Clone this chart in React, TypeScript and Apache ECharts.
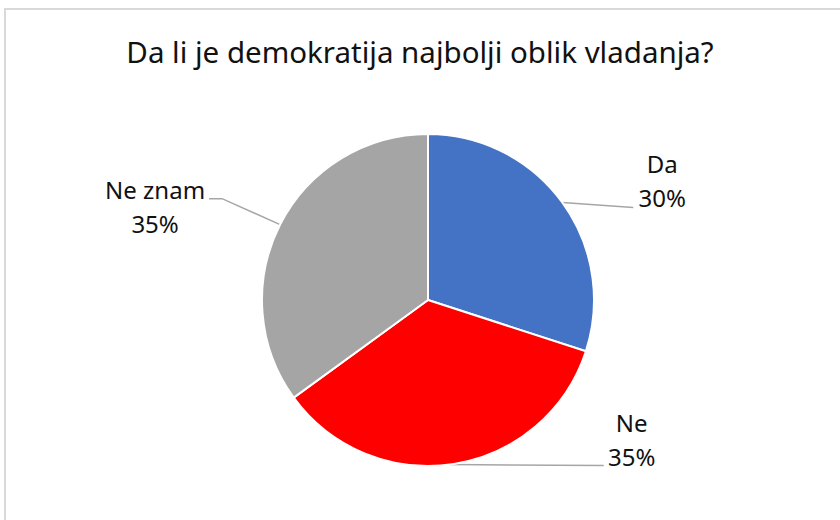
import React, { useEffect, useRef } from "react";
import * as echarts from "echarts";

const TITLE = "Da li je demokratija najbolji oblik vladanja?";
const CATEGORIES = ["Da", "Ne", "Ne znam"];
const VALUES = [30, 35, 35];
const COLORS = ["#4472C4", "#FF0000", "#A5A5A5"];

const FONT = "'Noto Sans', 'Open Sans', sans-serif";
const PIE_CENTER = [428, 300];
const PIE_RADIUS = 166;

// label placement relative to the slice edge point (style, not data)
const LABEL_STYLE = [
  { tweak: 0, label: [100, -22], line: [[71, 5]] },
  { tweak: 1.5, label: [182, -25], line: [[154, 1]] },
  { tweak: 0, label: [-125, -18], line: [[-58, -26], [-71, -26]] },
];

function edgePoint(index: number, tweak: number): number[] {
  const total = VALUES.reduce((a, b) => a + b, 0);
  let cum = 0;
  for (let i = 0; i < index; i++) cum += VALUES[i];
  const deg = ((cum + VALUES[index] / 2) / total) * 360 + tweak;
  const a = (deg * Math.PI) / 180;
  return [PIE_CENTER[0] + PIE_RADIUS * Math.sin(a), PIE_CENTER[1] - PIE_RADIUS * Math.cos(a)];
}

export default function App() {
  const ref = useRef<HTMLDivElement>(null);
  useEffect(() => {
    if (!ref.current) return;
    const chart = echarts.init(ref.current, undefined, { renderer: "svg" });
    chart.setOption({
      animation: false,
      backgroundColor: "#ffffff",
      title: {
        text: TITLE,
        left: "center",
        top: 31,
        padding: [0, 0, 0, 10],
        textStyle: {
          fontFamily: FONT,
          fontSize: 29.5,
          fontWeight: "normal",
          color: "#111111",
          lineHeight: 40,
        },
      },
      graphic: [
        {
          type: "rect",
          silent: true,
          z: -10,
          shape: { x: 5, y: 9, width: 900, height: 600 },
          style: { fill: "none", stroke: "#d9d9d9", lineWidth: 2 },
        },
      ],
      series: [
        {
          type: "pie",
          center: PIE_CENTER,
          radius: PIE_RADIUS,
          startAngle: 90,
          clockwise: true,
          avoidLabelOverlap: false,
          itemStyle: { borderColor: "#ffffff", borderWidth: 2 },
          emphasis: { disabled: true },
          label: {
            show: true,
            position: "outside",
            formatter: (p: any) => `${p.name}\n${Math.round(p.percent)}%`,
            fontFamily: FONT,
            fontSize: 24,
            lineHeight: 34,
            color: "#111111",
            align: "center",
          },
          labelLine: {
            show: true,
            smooth: false,
            length: 10,
            length2: 10,
            lineStyle: { color: "#a6a6a6", width: 1.5 },
          },
          labelLayout: (params: any) => {
            const st = LABEL_STYLE[params.dataIndex];
            const edge = edgePoint(params.dataIndex, st.tweak);
            const pts = [edge, ...st.line.map((o) => [edge[0] + o[0], edge[1] + o[1]])];
            return {
              x: edge[0] + st.label[0],
              y: edge[1] + st.label[1],
              align: "center",
              verticalAlign: "middle",
              labelLinePoints: pts,
            };
          },
          data: CATEGORIES.map((name, i) => ({
            name,
            value: VALUES[i],
            itemStyle: { color: COLORS[i] },
          })),
        },
      ],
    });
    return () => chart.dispose();
  }, []);
  return (
    <div
      ref={ref}
      style={{ position: "absolute", left: 0, top: 0, width: 840, height: 520 }}
    />
  );
}
